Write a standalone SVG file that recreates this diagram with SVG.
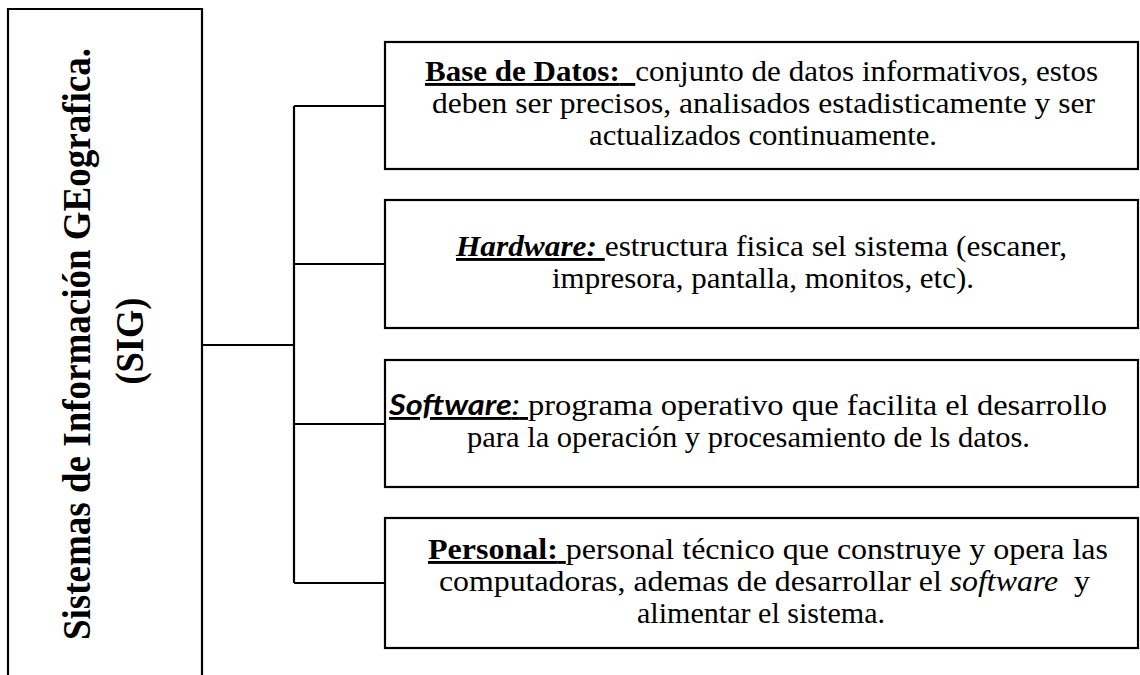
<svg xmlns="http://www.w3.org/2000/svg" width="1140" height="675" viewBox="0 0 1140 675">
<style>
.box{fill:#fff;stroke:#000;stroke-width:2.2}
.con{fill:none;stroke:#000;stroke-width:2.2}
</style>
<rect width="1140" height="675" fill="#fff"/>
<g id="connectors">
<path class="con" d="M202 345 H294 M294 106 V583 M294 106 H385 M294 264 H385 M294 424 H385 M294 583 H385"/>
</g>
<g id="node-base-datos">
<rect class="box" x="385" y="42" width="753" height="127"/>
<text x="763.5" y="113" font-family="Liberation Serif" font-size="29" text-anchor="middle" textLength="663" lengthAdjust="spacingAndGlyphs">deben ser precisos, analisados estadisticamente y ser</text>
<text x="763" y="145" font-family="Liberation Serif" font-size="29" text-anchor="middle" textLength="348" lengthAdjust="spacingAndGlyphs">actualizados continuamente.</text>
<text xml:space="preserve" x="761.5" y="81" font-family="Liberation Serif" font-size="29" text-anchor="middle" textLength="673" lengthAdjust="spacingAndGlyphs"><tspan font-weight="bold" text-decoration="underline">Base de Datos:</tspan><tspan text-decoration="underline">  </tspan>conjunto de datos informativos, estos</text>
</g>
<g id="node-hardware">
<rect class="box" x="385" y="200" width="753" height="128"/>
<text x="763" y="288" font-family="Liberation Serif" font-size="29" text-anchor="middle" textLength="422" lengthAdjust="spacingAndGlyphs">impresora, pantalla, monitos, etc).</text>
<text xml:space="preserve" x="761.5" y="256" font-family="Liberation Serif" font-size="29" text-anchor="middle" textLength="611" lengthAdjust="spacingAndGlyphs"><tspan font-weight="bold" font-style="italic" text-decoration="underline">Hardware:</tspan><tspan text-decoration="underline"> </tspan>estructura fisica sel sistema (escaner,</text>
</g>
<g id="node-software">
<rect class="box" x="385" y="360" width="753" height="127"/>
<text x="748.5" y="447" font-family="Liberation Serif" font-size="29" text-anchor="middle" textLength="563" lengthAdjust="spacingAndGlyphs">para la operación y procesamiento de ls datos.</text>
<text xml:space="preserve" x="748" y="415" font-family="Liberation Serif" font-size="29" text-anchor="middle" textLength="718" lengthAdjust="spacingAndGlyphs"><tspan font-family="Lato" font-weight="bold" font-style="italic" text-decoration="underline">Software</tspan><tspan font-family="Lato" font-style="italic" text-decoration="underline">:</tspan><tspan text-decoration="underline"> </tspan>programa operativo que facilita el desarrollo</text>
</g>
<g id="node-personal">
<rect class="box" x="385" y="518" width="753" height="130"/>
<text x="761" y="623" font-family="Liberation Serif" font-size="29" text-anchor="middle" textLength="248" lengthAdjust="spacingAndGlyphs">alimentar el sistema.</text>
<text xml:space="preserve" x="764.5" y="591" font-family="Liberation Serif" font-size="29" text-anchor="middle" textLength="651" lengthAdjust="spacingAndGlyphs">computadoras, ademas de desarrollar el <tspan font-style="italic">software</tspan>  y</text>
<text xml:space="preserve" x="768" y="559" font-family="Liberation Serif" font-size="29" text-anchor="middle" textLength="680" lengthAdjust="spacingAndGlyphs"><tspan font-weight="bold" text-decoration="underline">Personal:</tspan><tspan text-decoration="underline"> </tspan>personal técnico que construye y opera las</text>
</g>
<g id="title-node">
<path class="box" d="M8 690 V9 H202 V690"/>
<text transform="translate(90 344) rotate(-90)" x="0" y="0" font-family="Liberation Serif" font-size="39" font-weight="bold" text-anchor="middle" textLength="592" lengthAdjust="spacingAndGlyphs">Sistemas de Información GEografica.</text>
<text transform="translate(143 341) rotate(-90)" x="0" y="0" font-family="Liberation Serif" font-size="39" font-weight="bold" text-anchor="middle" textLength="87" lengthAdjust="spacingAndGlyphs">(SIG)</text>
</g>
</svg>
